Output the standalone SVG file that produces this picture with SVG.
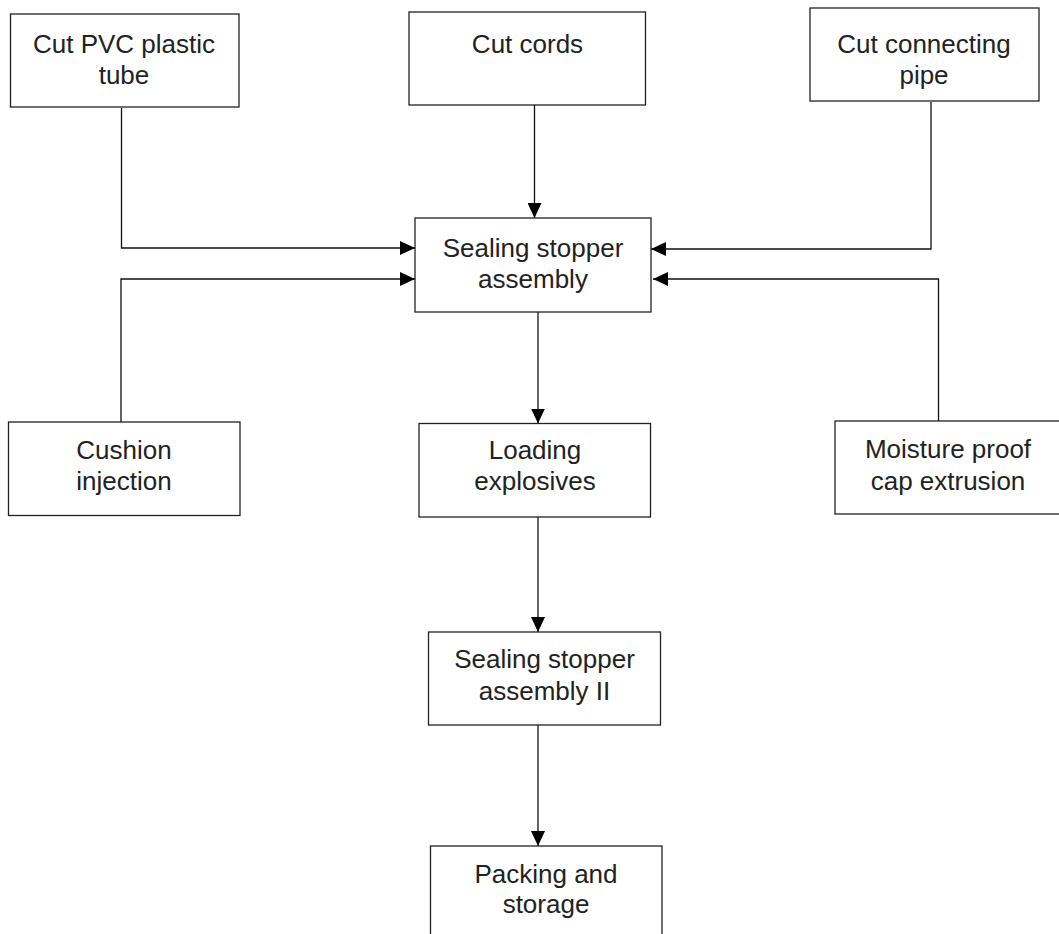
<svg xmlns="http://www.w3.org/2000/svg" width="1059" height="934" viewBox="0 0 1059 934">
<style>
.box{fill:#fff;stroke:#222;stroke-width:1.3}
.lbl{font-family:"Liberation Sans",Arial,sans-serif;font-size:26px;fill:#222;text-anchor:middle}
.con{fill:none;stroke:#111;stroke-width:1.3}
</style>
<defs>
<marker id="ah" viewBox="0 0 15 14" refX="15" refY="7" markerWidth="15" markerHeight="14" markerUnits="userSpaceOnUse" orient="auto">
<path d="M0,0 L15,7 L0,14 Z" fill="#000"/>
</marker>
</defs>
<rect width="1059" height="934" fill="#fff"/>
<g id="connectors">
<path class="con" d="M121.5,108 V248 H415" marker-end="url(#ah)"/>
<path class="con" d="M534.5,105 V218" marker-end="url(#ah)"/>
<path class="con" d="M931,102 V249 H651" marker-end="url(#ah)"/>
<path class="con" d="M121,422 V279 H415" marker-end="url(#ah)"/>
<path class="con" d="M938.5,421 V279 H653" marker-end="url(#ah)"/>
<path class="con" d="M538,312 V423.5" marker-end="url(#ah)"/>
<path class="con" d="M538,517 V632" marker-end="url(#ah)"/>
<path class="con" d="M538,725 V846" marker-end="url(#ah)"/>
</g>
<g id="n_pvc">
<rect class="box" x="10.5" y="14" width="228.5" height="93"/>
<text class="lbl" x="124" y="53">Cut PVC plastic</text>
<text class="lbl" x="124" y="84">tube</text>
</g>
<g id="n_cords">
<rect class="box" x="409" y="12" width="236.5" height="93"/>
<text class="lbl" x="527.5" y="53">Cut cords</text>
</g>
<g id="n_pipe">
<rect class="box" x="810" y="8" width="229" height="93"/>
<text class="lbl" x="924" y="53">Cut connecting</text>
<text class="lbl" x="924" y="84">pipe</text>
</g>
<g id="n_seal1">
<rect class="box" x="415" y="218" width="236" height="94"/>
<text class="lbl" x="533" y="257">Sealing stopper</text>
<text class="lbl" x="533" y="288">assembly</text>
</g>
<g id="n_cushion">
<rect class="box" x="8.5" y="422" width="231.5" height="93.5"/>
<text class="lbl" x="124" y="459">Cushion</text>
<text class="lbl" x="124" y="490">injection</text>
</g>
<g id="n_loading">
<rect class="box" x="419" y="423.5" width="231.5" height="93.5"/>
<text class="lbl" x="535" y="459">Loading</text>
<text class="lbl" x="535" y="490">explosives</text>
</g>
<g id="n_moisture">
<rect class="box" x="835" y="421" width="228" height="93"/>
<text class="lbl" x="948" y="458">Moisture proof</text>
<text class="lbl" x="948" y="490">cap extrusion</text>
</g>
<g id="n_seal2">
<rect class="box" x="428.5" y="632" width="232" height="93"/>
<text class="lbl" x="544.5" y="668">Sealing stopper</text>
<text class="lbl" x="544.5" y="700">assembly II</text>
</g>
<g id="n_packing">
<rect class="box" x="430.5" y="846" width="231.5" height="100"/>
<text class="lbl" x="546" y="883">Packing and</text>
<text class="lbl" x="546" y="913">storage</text>
</g>
</svg>
